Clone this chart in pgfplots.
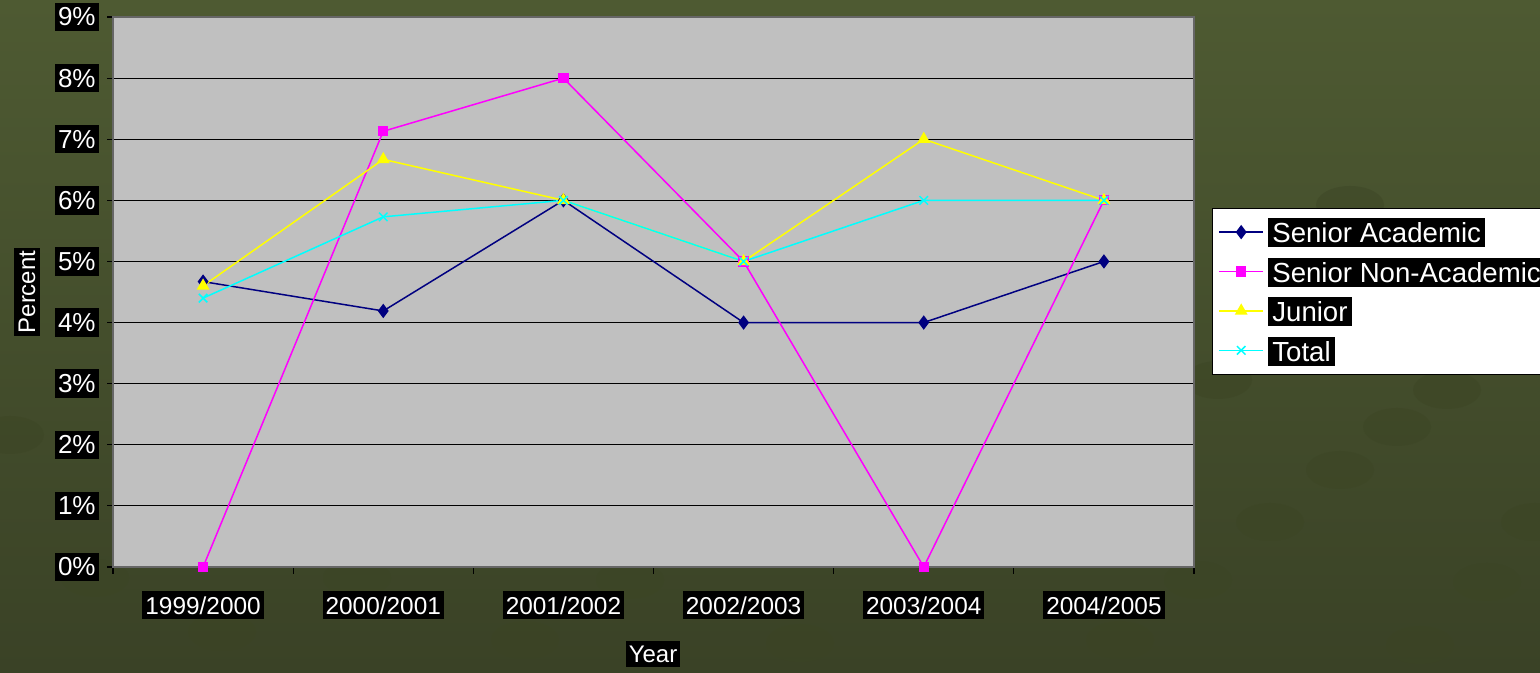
\documentclass[border=0pt]{standalone}
\usepackage{pgfplots}
\pgfplotsset{compat=1.18}
\usepackage{fontspec}
\setmainfont{Liberation Sans}
\definecolor{bgA}{HTML}{4E5A32}
\definecolor{bgB}{HTML}{3A4226}
\definecolor{blob}{HTML}{3C4524}
\definecolor{plotgray}{HTML}{C0C0C0}
\definecolor{navyc}{HTML}{000080}
\definecolor{magc}{HTML}{FF00FF}
\definecolor{yelc}{HTML}{FFFF00}
\definecolor{cyac}{HTML}{00FFFF}
\setlength{\fboxsep}{2.2pt}
\newcommand{\wb}[1]{\colorbox{black}{\textcolor{white}{#1}}}
\begin{document}
\begin{tikzpicture}
\useasboundingbox (0pt,0pt) rectangle (770pt,336.5pt);
\shade[top color=bgA, bottom color=bgB] (0pt,0pt) rectangle (770pt,336.5pt);
\foreach \px/\py in {1350/205,1218/380,1447/390,1397/427,1340/470,1270/522,1535/522,1487/582,1420/645,1198/580,1120/640,800/643,630/580,525/640,357/578,222/632,95/578,10/435}{
  \fill[blob, opacity=0.45] ({\px*0.5pt},{(673-\py)*0.5pt}) ellipse (17pt and 9.5pt);
}
\begin{axis}[
  at={(56.5pt,53pt)}, anchor=south west,
  scale only axis, width=540.5pt, height=275pt,
  xmin=-0.5, xmax=5.5, ymin=0, ymax=9,
  axis background/.style={fill=plotgray},
  axis line style={black!60, line width=0.6pt},
  ytick={0,...,9},
  /pgf/number format/assume math mode=true,
  yticklabel={\pgfmathprintnumber{\tick}\%},
  ymajorgrids, major grid style={black, line width=0.6pt},
  xtick={0,...,5},
  xticklabels={1999/2000,2000/2001,2001/2002,2002/2003,2003/2004,2004/2005},
  minor xtick={-0.5,0.5,...,5.5},
  tick align=outside,
  major tick length=3pt, minor tick length=3.5pt,
  major x tick style={draw=none},
  minor x tick style={black, line width=0.6pt},
  major y tick style={black, line width=0.6pt},
  ytick pos=left, xtick pos=bottom,
  yticklabel style={fill=black, text=white, inner xsep=1.5pt, inner ysep=2.5pt, font=\fontsize{13}{15}\selectfont, xshift=-4pt},
  xticklabel style={fill=black, text=white, inner xsep=1.5pt, inner ysep=2.5pt, font=\fontsize{12.2}{14}\selectfont, yshift=-9pt},
  legend style={at={(axis description cs:1.0167,0.6527)}, anchor=north west, draw=black, fill=white,
    font=\fontsize{13.8}{16}\selectfont, row sep=2pt, inner sep=3pt,
    /tikz/every even column/.append style={column sep=2pt}},
  legend cell align=left,
  legend image code/.code={\draw[mark repeat=2,mark phase=2] plot coordinates {(0pt,0pt)(11pt,0pt)(22pt,0pt)};},
]
\addplot[navyc, line width=0.75pt, mark=diamond*, mark size=3pt] coordinates {(0,4.67)(1,4.19)(2,6)(3,4)(4,4)(5,5)};
\addlegendentry{\wb{Senior Academic}}
\addplot[magc, line width=0.75pt, mark=square*, mark size=2.2pt] coordinates {(0,0)(1,7.13)(2,8)(3,5)(4,0)(5,6)};
\addlegendentry{\wb{Senior Non-Academic}}
\addplot[yelc, line width=0.75pt, mark=triangle*, mark size=3pt] coordinates {(0,4.6)(1,6.67)(2,6)(3,5)(4,7)(5,6)};
\addlegendentry{\wb{Junior}}
\addplot[cyac, line width=0.75pt, mark=x, mark size=3pt] coordinates {(0,4.4)(1,5.73)(2,6)(3,5)(4,6)(5,6)};
\addlegendentry{\wb{Total}}
\end{axis}
\node[rotate=90, fill=black, text=white, inner xsep=1.5pt, inner ysep=2.5pt, font=\fontsize{12}{14}\selectfont] at (13.5pt,190.5pt) {Percent};
\node[fill=black, text=white, inner xsep=1.5pt, inner ysep=2.5pt, font=\fontsize{12}{14}\selectfont] at (326.5pt,9.5pt) {Year};
\end{tikzpicture}
\end{document}
